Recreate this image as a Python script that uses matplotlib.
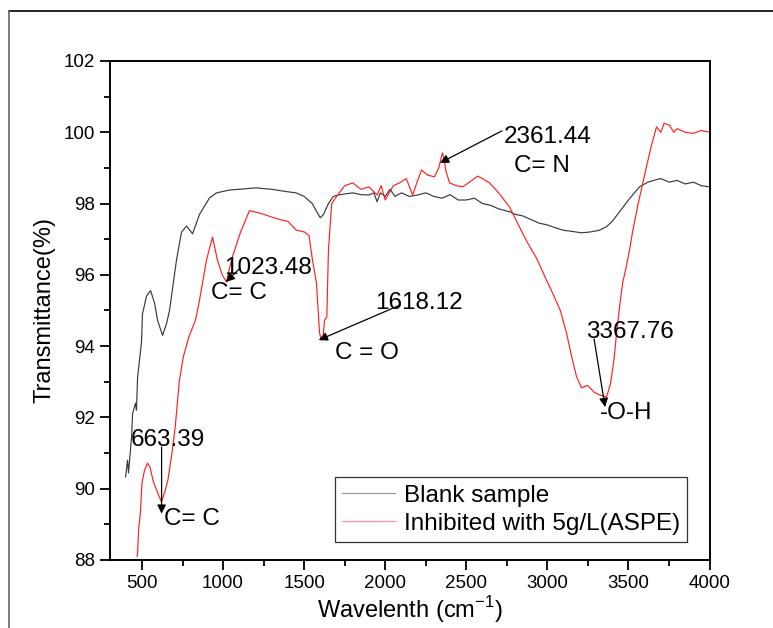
import numpy as np
import matplotlib.pyplot as plt
from matplotlib.lines import Line2D

plt.rcParams['font.family'] = ['Liberation Sans', 'DejaVu Sans']

# Blank sample: (Wellenzahl, Transmission)
blank = np.array([
    (399, 90.33), (411, 90.8), (417, 90.44), (436, 91.46), (442, 92.1), (460, 92.4),
    (466, 92.2), (473, 93.13), (497, 94.1), (503, 94.9), (528, 95.4), (553, 95.56),
    (578, 95.2), (596, 94.73), (627, 94.3), (652, 94.64), (670, 95.0), (713, 96.42),
    (744, 97.2), (775, 97.37), (812, 97.15), (855, 97.7), (917, 98.16), (960, 98.3),
    (1040, 98.38), (1100, 98.4), (1200, 98.44), (1300, 98.4), (1400, 98.33), (1450, 98.3),
    (1500, 98.2), (1550, 98.0), (1580, 97.75), (1600, 97.6), (1620, 97.7), (1650, 98.0),
    (1680, 98.2), (1720, 98.25), (1800, 98.3), (1850, 98.25), (1900, 98.24), (1930, 98.3),
    (1950, 98.05), (1970, 98.3), (2000, 98.2), (2030, 98.4), (2060, 98.2), (2100, 98.3),
    (2150, 98.2), (2200, 98.24), (2250, 98.3), (2300, 98.2), (2350, 98.15), (2400, 98.25),
    (2450, 98.1), (2500, 98.1), (2550, 98.15), (2600, 98.0), (2650, 97.95), (2700, 97.85),
    (2767, 97.77), (2800, 97.7), (2850, 97.65), (2900, 97.55), (2950, 97.45), (3000, 97.4),
    (3050, 97.32), (3100, 97.25), (3150, 97.22), (3210, 97.18), (3260, 97.2), (3320, 97.25),
    (3364, 97.35), (3400, 97.5), (3450, 97.8), (3500, 98.1), (3568, 98.47), (3620, 98.6),
    (3679, 98.68), (3700, 98.7), (3750, 98.6), (3800, 98.65), (3850, 98.55), (3900, 98.6),
    (3950, 98.5), (4000, 98.47)])

# Inhibiert mit 5g/L (ASPE)
inhib = np.array([
    (470, 88.1), (473, 88.2), (480, 88.9), (490, 89.3), (500, 90.16), (515, 90.5),
    (534, 90.72), (550, 90.6), (570, 90.2), (600, 89.85), (620, 89.63), (640, 89.9),
    (660, 90.24), (685, 91.0), (705, 91.73), (730, 93.0), (755, 93.7), (790, 94.27),
    (830, 94.73), (855, 95.29), (898, 96.42), (935, 97.06), (966, 96.4), (995, 96.0),
    (1021, 95.8), (1052, 96.42), (1108, 97.2), (1163, 97.8), (1200, 97.76), (1250, 97.7),
    (1300, 97.62), (1350, 97.55), (1400, 97.5), (1450, 97.26), (1503, 97.2), (1530, 97.1),
    (1552, 96.4), (1576, 95.77), (1595, 94.37), (1607, 94.17), (1618, 94.3), (1626, 94.73),
    (1640, 94.82), (1650, 96.7), (1670, 98.0), (1700, 98.2), (1750, 98.5), (1800, 98.58),
    (1850, 98.4), (1900, 98.47), (1950, 98.24), (1975, 98.5), (2000, 98.1), (2050, 98.5),
    (2088, 98.58), (2130, 98.7), (2169, 98.24), (2200, 98.65), (2224, 98.94), (2260, 98.8),
    (2304, 98.75), (2330, 99.0), (2353, 99.42), (2361, 99.3), (2375, 98.9), (2397, 98.58),
    (2440, 98.5), (2477, 98.47), (2520, 98.6), (2569, 98.77), (2600, 98.7), (2643, 98.58),
    (2700, 98.3), (2767, 97.9), (2800, 97.6), (2847, 97.17), (2890, 96.8), (2933, 96.47),
    (2990, 95.9), (3032, 95.49), (3080, 95.0), (3118, 94.37), (3150, 93.7), (3180, 93.14),
    (3211, 92.83), (3248, 92.9), (3290, 92.7), (3322, 92.63), (3345, 92.6), (3365, 92.57),
    (3390, 92.96), (3410, 93.6), (3427, 94.37), (3445, 95.1), (3464, 95.77), (3485, 96.2),
    (3507, 96.7), (3525, 97.2), (3560, 98.0), (3611, 99.03), (3640, 99.6), (3673, 100.15),
    (3700, 100.0), (3720, 100.25), (3753, 100.2), (3780, 100.0), (3800, 100.1),
    (3850, 100.0), (3900, 99.97), (3950, 100.05), (4000, 100.0)])

peak_labels = ['663.39', '1023.48', '1618.12', '2361.44', '3367.76']
group_labels = ['C= C', 'C= C', 'C = O', 'C= N', '-O-H']

fig = plt.figure(figsize=(7.73, 6.28), dpi=100)
ax = fig.add_axes([0.1417, 0.1083, 0.7762, 0.7946])

ax.plot(blank[:, 0], blank[:, 1], color='#3a3a3a', lw=0.85, label='Blank sample')
ax.plot(inhib[:, 0], inhib[:, 1], color='#ff2020', lw=0.85, label='Inhibited with 5g/L(ASPE)')

ax.set_xlim(300, 4000)
ax.set_ylim(88, 102)
ax.set_xticks(np.arange(500, 4001, 500))
ax.set_xticks(np.arange(500, 4001, 250), minor=True)
ax.set_yticks(np.arange(88, 103, 2))
ax.set_yticks(np.arange(88, 103, 1), minor=True)
ax.tick_params(which='major', direction='out', length=7, width=1.3, labelsize=13.5)
ax.tick_params(which='minor', direction='out', length=4, width=1.3)
for s in ax.spines.values():
    s.set_linewidth(1.4)

ax.set_xlabel('Wavelenth (cm$^{\\mathregular{-1}}$)', fontsize=17, labelpad=2)
ax.set_ylabel('Transmittance(%)', fontsize=17, labelpad=6)

arrow = dict(arrowstyle='-|>', color='black', lw=0.9, mutation_scale=13, shrinkA=0, shrinkB=0)
fs = 17.5

# 663.39
ax.annotate('', xy=(621, 89.3), xytext=(621, 91.17), arrowprops=arrow)
ax.text(660, 91.37, peak_labels[0], fontsize=fs, ha='center', va='center')
ax.text(636, 89.15, group_labels[0], fontsize=fs, ha='left', va='center')

# 1023.48
ax.annotate('', xy=(1018, 95.8), xytext=(1105, 96.19), arrowprops=arrow)
ax.text(1277, 96.2, peak_labels[1], fontsize=fs, ha='center', va='center')
ax.text(1099, 95.48, group_labels[1], fontsize=fs, ha='center', va='center')

# 1618.12
ax.annotate('', xy=(1590, 94.17), xytext=(2091, 95.15), arrowprops=arrow)
ax.text(2209, 95.22, peak_labels[2], fontsize=fs, ha='center', va='center')
ax.text(1888, 93.8, group_labels[2], fontsize=fs, ha='center', va='center')

# 2361.44
ax.annotate('', xy=(2338, 99.14), xytext=(2720, 100.04), arrowprops=arrow)
ax.text(3004, 99.88, peak_labels[3], fontsize=fs, ha='center', va='center')
ax.text(2967, 99.05, group_labels[3], fontsize=fs, ha='center', va='center')

# 3367.76
ax.annotate('', xy=(3356, 92.29), xytext=(3288, 94.2), arrowprops=arrow)
ax.text(3510, 94.4, peak_labels[4], fontsize=fs, ha='center', va='center')
ax.text(3485, 92.12, group_labels[4], fontsize=fs, ha='center', va='center')

leg = ax.legend(loc='lower right', bbox_to_anchor=(0.963, 0.036), fontsize=17.5,
                frameon=True, fancybox=False, edgecolor='black', handlelength=2.2,
                handletextpad=0.35, borderpad=0.3, labelspacing=0.25, borderaxespad=0)
leg.get_frame().set_linewidth(0.9)
leg.legend_handles[0].set_color('#999999')
leg.legend_handles[1].set_color('#ff9090')

# aeusserer Rahmen (oben und links)
fig.add_artist(Line2D([9 / 773, 1], [1 - 11 / 628, 1 - 11 / 628], color='black', lw=1.2))
fig.add_artist(Line2D([9 / 773, 9 / 773], [0, 1 - 11 / 628], color='#666666', lw=1.2))

fig.savefig('out.png', dpi=100)
